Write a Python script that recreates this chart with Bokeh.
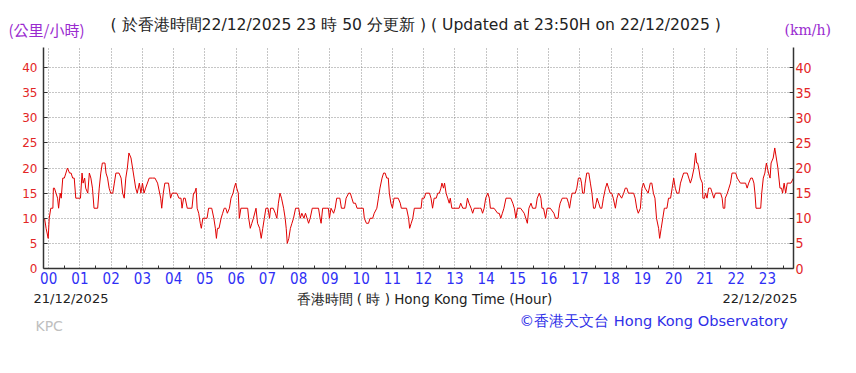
from bokeh.plotting import figure
from bokeh.layouts import column
from bokeh.models import Range1d, LinearAxis, FixedTicker, ColumnDataSource, Plot
from bokeh.core.properties import value
from bokeh.embed import file_html
from bokeh.resources import INLINE

# ---- data (minutes after 00:00 HKT, 22/12/2025) ----
minutes = [-8, -5, -1, 1, 4, 8, 9, 11, 14, 17, 19, 22, 24, 27, 30, 33, 36, 40, 43, 46, 49, 52, 56, 61, 64, 66, 69, 71, 75, 78,
           81, 84, 87, 94, 97, 100, 103, 108, 110, 113, 116, 119, 123, 126, 129, 135, 139, 142, 145, 148, 151, 154, 158, 161, 164,
           167, 170, 174, 177, 180, 183, 186, 193, 199, 204, 209, 215, 217, 220, 223, 227, 230, 234, 237, 246, 250, 254, 256, 259,
           262, 266, 275, 278, 280, 283, 285, 288, 291, 293, 296, 304, 307, 313, 317, 320, 322, 324, 327, 331, 334, 337, 340, 343,
           347, 350, 354, 356, 359, 361, 364, 366, 369, 382, 384, 387, 390, 393, 398, 401, 405, 408, 411, 414, 417, 421, 424, 426,
           431, 435, 438, 441, 444, 447, 451, 454, 456, 458, 461, 464, 467, 470, 474, 480, 483, 486, 490, 493, 496, 499, 502, 506,
           515, 518, 521, 523, 526, 534, 537, 539, 542, 547, 550, 553, 557, 559, 562, 568, 571, 576, 579, 582, 585, 589, 592, 604,
           606, 610, 614, 617, 622, 625, 630, 633, 636, 640, 643, 646, 649, 652, 654, 657, 660, 663, 671, 675, 677, 687, 691, 693,
           696, 699, 702, 715, 717, 721, 724, 731, 734, 737, 740, 744, 747, 750, 753, 755, 758, 760, 763, 766, 769, 771, 774, 788,
           791, 795, 801, 804, 807, 811, 814, 817, 827, 830, 833, 836, 839, 843, 846, 848, 855, 862, 865, 868, 871, 874, 878, 887,
           891, 894, 897, 900, 906, 913, 916, 919, 922, 926, 929, 935, 938, 942, 945, 947, 950, 954, 957, 963, 970, 973, 978, 980,
           982, 986, 992, 995, 998, 1000, 1003, 1005, 1011, 1014, 1017, 1021, 1023, 1025, 1028, 1030, 1033, 1037, 1040, 1043, 1046,
           1049, 1053, 1056, 1059, 1062, 1065, 1069, 1072, 1075, 1078, 1081, 1084, 1088, 1091, 1094, 1100, 1104, 1107, 1110, 1113,
           1123, 1126, 1129, 1132, 1136, 1139, 1142, 1145, 1151, 1155, 1158, 1161, 1164, 1167, 1171, 1173, 1176, 1179, 1182, 1184,
           1187, 1190, 1194, 1197, 1200, 1203, 1206, 1210, 1213, 1216, 1219, 1222, 1226, 1229, 1232, 1235, 1239, 1242, 1244, 1246,
           1248, 1251, 1255, 1256, 1259, 1261, 1264, 1267, 1271, 1274, 1277, 1280, 1287, 1290, 1293, 1295, 1298, 1299, 1303, 1306,
           1309, 1312, 1316, 1319, 1322, 1328, 1335, 1338, 1341, 1344, 1348, 1351, 1354, 1356, 1358, 1367, 1369, 1372, 1375, 1378,
           1382, 1385, 1387, 1391, 1394, 1397, 1400, 1404, 1407, 1409, 1412, 1415, 1418, 1425, 1430]
speed_kmh = [10, 8, 6, 10, 12, 12, 16, 16, 15, 14, 12, 15, 14, 18, 18, 19, 20, 19, 19, 18, 18, 14, 14, 14, 19, 17, 18, 16, 15, 19,
             18, 16, 12, 12, 16, 19, 21, 21, 19, 18, 16, 15, 15, 17, 19, 19, 18, 15, 14, 18, 20, 23, 22, 20, 18,
             16, 15, 17, 15, 17, 15, 16, 18, 18, 18, 17, 14, 12, 15, 17, 17, 17, 14, 15, 15, 14, 14, 12, 14,
             14, 12, 12, 15, 15, 16, 12, 11, 9, 8, 10, 10, 12, 12, 10, 8, 6, 8, 8, 10, 11, 12, 12, 11,
             12, 14, 15, 16, 17, 16, 15, 10, 12, 12, 10, 8, 9, 10, 12, 9, 8, 6, 8, 10, 12, 12, 10, 12,
             12, 11, 10, 13, 15, 14, 12, 10, 8, 5, 6, 8, 9, 10, 12, 12, 10, 11, 10, 11, 10, 9, 10, 12,
             12, 12, 10, 9, 12, 12, 12, 10, 12, 11, 12, 14, 14, 14, 12, 12, 14, 15, 15, 14, 13, 13, 12, 12,
             10, 9, 9, 10, 10, 11, 12, 14, 16, 18, 19, 19, 18, 18, 15, 13, 12, 14, 14, 13, 12, 12, 10, 8,
             9, 10, 12, 12, 14, 14, 15, 15, 14, 12, 14, 14, 15, 15, 16, 17, 16, 17, 15, 14, 13, 14, 12, 12,
             13, 12, 12, 14, 13, 12, 11, 12, 12, 12, 11, 12, 14, 15, 14, 12, 12, 11, 11, 10, 11, 12, 14, 14,
             13, 12, 10, 12, 12, 11, 10, 9, 12, 13, 12, 12, 14, 15, 14, 12, 12, 10, 12, 12, 11, 10, 10, 12,
             13, 14, 14, 14, 13, 12, 14, 15, 15, 16, 18, 18, 17, 15, 15, 17, 19, 19, 17, 15, 12,
             12, 14, 13, 12, 12, 14, 16, 17, 16, 15, 15, 14, 12, 14, 15, 14, 15, 16, 16, 15,
             15, 14, 12, 11, 12, 16, 17, 16, 15, 17, 17, 15, 14, 10, 8, 6, 8, 10, 12, 12,
             12, 14, 14, 16, 18, 16, 15, 15, 17, 18, 19, 19, 19, 18, 17, 18, 20, 23, 21, 21,
             20, 18, 17, 14, 14, 15, 14, 16, 16, 15, 14, 15, 15, 15, 14, 12, 12, 14, 15, 16,
             17, 19, 19, 19, 18, 17, 17, 17, 16, 17, 18, 18, 17, 15, 12, 12, 15, 18, 19, 21,
             19, 18, 21, 22, 24, 22, 20, 16, 16, 15, 17, 15, 17, 17, 18]

hour_ticks = [0, 60, 120, 180, 240, 300, 360, 420, 480, 540, 600, 660, 720, 780, 840, 900, 960, 1020, 1080, 1140,
              1200, 1260, 1320, 1380]
hour_labels = ["00", "01", "02", "03", "04", "05", "06", "07", "08", "09", "10", "11", "12", "13", "14", "15",
               "16", "17", "18", "19", "20", "21", "22", "23"]
half_hour_ticks = [30, 90, 150, 210, 270, 330, 390, 450, 510, 570, 630, 690, 750, 810, 870, 930, 990, 1050, 1110,
                   1170, 1230, 1290, 1350, 1410]
speed_ticks = [0, 5, 10, 15, 20, 25, 30, 35, 40]

W = 856
TOP_H, MAIN_H = 47, 243
BOT_H = 373 - TOP_H - MAIN_H
HAS_FRAME_ALIGN = "frame_align" in Plot.properties()


def text_panel(height, y_top):
    f = figure(width=W, height=height, x_range=Range1d(0, W), y_range=Range1d(y_top + height, y_top),
               output_backend="svg", toolbar_location=None, x_axis_type=None, y_axis_type=None,
               min_border=0, min_border_left=0, min_border_right=0, min_border_top=0, min_border_bottom=0)
    f.outline_line_color = None
    f.xgrid.visible = False
    f.ygrid.visible = False
    f.background_fill_color = "white"
    f.border_fill_color = "white"
    if HAS_FRAME_ALIGN:
        f.frame_align = False
    return f


def put(f, px, py, text, color, size, align="left", font="DejaVu Sans"):
    f.text(x=[px], y=[py], text=[text], text_color=color, text_font_size=value(size),
           text_align=align, text_baseline="middle", text_font=value(font))


# ---- top text band ----
top = text_panel(TOP_H, 0)
put(top, 8, 29, "(公里/小時)", "#9a2bd0", "15px", font="Noto Sans CJK TC")
put(top, 110, 24, "( 於香港時間22/12/2025 23 時 50 分更新 ) ( Updated at 23:50H on 22/12/2025 )", "#222222", "15.6px")
put(top, 784, 29, "(km/h)", "#9a2bd0", "14px", font="DejaVu Serif")

# ---- main chart ----
p = figure(width=W, height=MAIN_H, x_range=Range1d(-10, 1430), y_range=Range1d(0, 44),
           output_backend="svg", toolbar_location=None,
           min_border_left=43, min_border_right=63, min_border_top=0, min_border_bottom=22)
p.outline_line_color = None
p.background_fill_color = "white"
p.border_fill_color = "white"
if HAS_FRAME_ALIGN:
    p.frame_align = False

src = ColumnDataSource(dict(t=minutes, v=speed_kmh))
p.line("t", "v", source=src, line_color="#e00000", line_width=1)

p.xgrid.ticker = FixedTicker(ticks=hour_ticks)
p.ygrid.ticker = FixedTicker(ticks=speed_ticks[1:])
for g in (p.xgrid, p.ygrid):
    g.grid_line_color = "#8c8c8c"
    g.grid_line_dash = "1 2"
    g.grid_line_width = 1

AX = "#333333"
xa = p.xaxis[0]
xa.ticker = FixedTicker(ticks=hour_ticks, minor_ticks=half_hour_ticks)
xa.major_label_overrides = {t: l for t, l in zip(hour_ticks, hour_labels)}
xa.major_tick_in = 0
xa.major_tick_out = 0
xa.minor_tick_in = 3
xa.minor_tick_out = 0
xa.minor_tick_line_color = AX
xa.axis_line_color = AX
xa.axis_line_width = 1.5
xa.major_label_standoff = 3
xa.major_label_text_color = "#2f2ff5"
xa.major_label_text_font = "Liberation Sans Narrow, DejaVu Sans Condensed, sans-serif"
xa.major_label_text_font_size = "15px"

ya = p.yaxis[0]
ya.ticker = FixedTicker(ticks=speed_ticks)
ya.major_tick_in = 4
ya.major_tick_out = 0
ya.minor_tick_in = 0
ya.minor_tick_out = 0
ya.major_tick_line_color = AX
ya.axis_line_color = AX
ya.axis_line_width = 1.5
ya.major_label_standoff = 6
ya.major_label_text_color = "#e32626"
ya.major_label_text_font = "DejaVu Sans"
ya.major_label_text_font_size = "12px"

ra = LinearAxis(ticker=FixedTicker(ticks=speed_ticks))
ra.major_tick_in = 4
ra.major_tick_out = 0
ra.minor_tick_in = 0
ra.minor_tick_out = 0
ra.major_tick_line_color = AX
ra.axis_line_color = AX
ra.axis_line_width = 1.5
ra.major_label_standoff = 2
ra.major_label_text_color = "#e32626"
ra.major_label_text_font = "Liberation Sans Narrow, DejaVu Sans Condensed, sans-serif"
ra.major_label_text_font_size = "14px"
p.add_layout(ra, "right")

# ---- bottom text band ----
bot = text_panel(BOT_H, TOP_H + MAIN_H)
put(bot, 33, 298, "21/12/2025", "#222222", "13px")
put(bot, 296, 298, "香港時間 ( 時 ) Hong Kong Time (Hour)", "#222222", "13.5px")
put(bot, 797, 298, "22/12/2025", "#222222", "13px", align="right")
put(bot, 35, 325, "KPC", "#c0c0c0", "14px")
put(bot, 519, 320, "©香港天文台 Hong Kong Observatory", "#3030e8", "14.6px")

layout = column(top, p, bot, spacing=0)
open("out.html", "w").write(file_html(layout, INLINE))
